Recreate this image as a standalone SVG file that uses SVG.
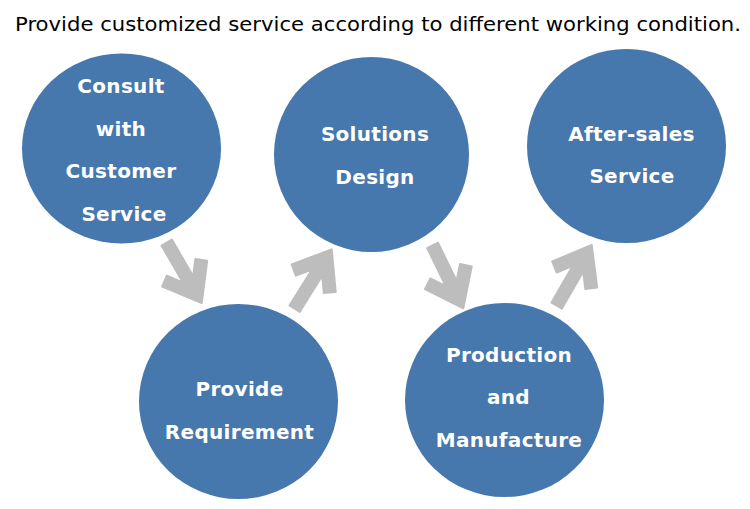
<svg xmlns="http://www.w3.org/2000/svg" width="750" height="509" viewBox="0 0 750 509">
  <defs>
    <style>
      .node { fill: #4677ad; }
      .lbl { font-family: "DejaVu Sans", Verdana, sans-serif; font-weight: bold; font-size: 20px; fill: #ffffff; text-anchor: middle; letter-spacing: 0.3px; }
      .title { font-family: "DejaVu Sans", Verdana, sans-serif; font-size: 19px; fill: #000000; }
      .arrow { fill: #bdbdbd; stroke: #bdbdbd; stroke-width: 2; stroke-linejoin: round; }
    </style>
    <path id="arr" d="M0,-6 L42.5,-6 L28.7,-16.5 L36,-26 L70,0 L36,26 L28.7,16.5 L42.5,6 L0,6 Z"/>
  </defs>
  <rect width="750" height="509" fill="#ffffff"/>
  <text class="title" x="15" y="31" textLength="726" lengthAdjust="spacingAndGlyphs">Provide customized service according to different working condition.</text>

  <g id="connectors">
    <use href="#arr" class="arrow" transform="translate(166.7,242.5) rotate(60)"/>
    <use href="#arr" class="arrow" transform="translate(294.6,308.7) rotate(-58)"/>
    <use href="#arr" class="arrow" transform="translate(432.6,245.4) rotate(64)"/>
    <use href="#arr" class="arrow" transform="translate(556.7,305.6) rotate(-60)"/>
  </g>

  <g id="consult">
    <ellipse class="node" cx="121.5" cy="148.5" rx="99.5" ry="95"/>
    <text class="lbl" x="121" y="93">Consult</text>
    <text class="lbl" x="121" y="136">with</text>
    <text class="lbl" x="121" y="178">Customer</text>
    <text class="lbl" x="124" y="221">Service</text>
  </g>
  <g id="requirement">
    <ellipse class="node" cx="238.5" cy="401.5" rx="99.5" ry="97.5"/>
    <text class="lbl" x="239.5" y="396">Provide</text>
    <text class="lbl" x="239.5" y="439">Requirement</text>
  </g>
  <g id="solutions">
    <ellipse class="node" cx="371.5" cy="154.5" rx="97.5" ry="97.5"/>
    <text class="lbl" x="375" y="141">Solutions</text>
    <text class="lbl" x="375" y="184">Design</text>
  </g>
  <g id="production">
    <ellipse class="node" cx="504.5" cy="400" rx="99.5" ry="97"/>
    <text class="lbl" x="509" y="362">Production</text>
    <text class="lbl" x="508.5" y="404">and</text>
    <text class="lbl" x="509" y="447">Manufacture</text>
  </g>
  <g id="aftersales">
    <ellipse class="node" cx="626.5" cy="146" rx="99.5" ry="97"/>
    <text class="lbl" x="631.5" y="141">After-sales</text>
    <text class="lbl" x="632" y="183">Service</text>
  </g>
</svg>
